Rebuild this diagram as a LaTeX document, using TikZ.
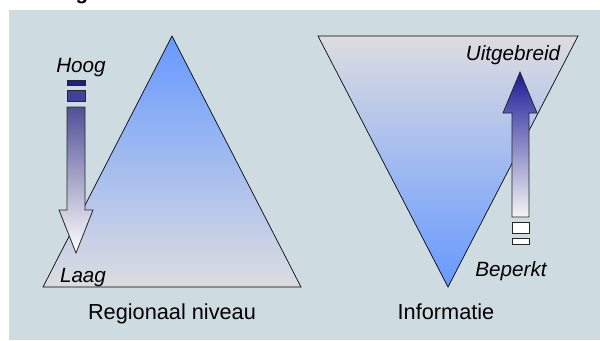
\documentclass[tikz,border=0pt]{standalone}
\usepackage{fontspec}
\setmainfont{Liberation Sans}
\definecolor{panel}{RGB}{206,220,225}
\definecolor{triblue}{RGB}{102,153,255}
\definecolor{trigray}{RGB}{221,221,224}
\definecolor{arrowdark}{RGB}{30,30,140}
\definecolor{arrowmid}{RGB}{80,80,150}
\begin{document}
\begin{tikzpicture}[x=0.75pt,y=-0.75pt,
  txt/.style={inner sep=0pt,anchor=base,font=\fontsize{16.3}{19}\selectfont},
  itxt/.style={txt,font=\fontsize{15.5}{18}\selectfont\itshape},
  outline/.style={draw=black,line width=0.5pt},
  bar/.style={draw=black!85,line width=0.6pt}]
  \useasboundingbox (0,0) rectangle (600,340);
  \fill[panel] (9,10) rectangle (600,340);
  \node[txt,font=\fontsize{15.5}{18}\selectfont\bfseries] (title) at (82,-1) {g};
  \shadedraw[outline,top color=triblue,bottom color=trigray] (172,36) -- (301,287) -- (43,287) -- cycle;
  \shadedraw[outline,top color=trigray,bottom color=triblue] (318,36) -- (578,36) -- (448,287) -- cycle;
  \foreach \ya/\yb/\c in {80.7/85.3/arrowdark, 90.7/101.7/arrowdark!85!white}
    \filldraw[bar,fill=\c] (67,\ya) rectangle (85,\yb);
  \shadedraw[bar,top color=arrowmid,middle color=arrowmid!20!white,bottom color=white] (67,107) -- (85,107) -- (85,210) -- (93,210) -- (76,253) -- (59,210) -- (67,210) -- cycle;
  \shadedraw[bar,top color=arrowdark!90!blue,bottom color=black!4!white] (520,72) -- (537,113) -- (529,113) -- (529,217) -- (512,217) -- (512,113) -- (503,113) -- cycle;
  \foreach \ya/\yb in {222/233, 238/244}
    \filldraw[bar,fill=white] (512,\ya) rectangle (529,\yb);
  \node[itxt] (hoog) at (81,72) {Hoog};
  \node[itxt] (laag) at (83,282) {Laag};
  \node[txt] (regio) at (172,319) {Regionaal niveau};
  \node[itxt] (uitgebreid) at (513,60) {Uitgebreid};
  \node[itxt] (beperkt) at (511,276) {Beperkt};
  \node[txt] (info) at (446,319) {Informatie};
\end{tikzpicture}
\end{document}
